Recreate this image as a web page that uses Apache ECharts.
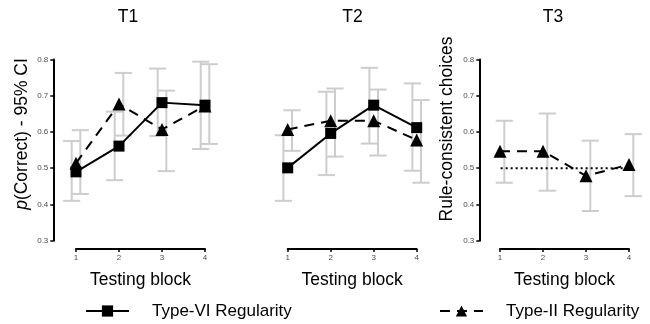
<!DOCTYPE html>
<html>
<head>
<meta charset="utf-8">
<script src="https://cdn.jsdelivr.net/npm/echarts@6/dist/echarts.min.js"></script>
<style>
  html, body { margin: 0; padding: 0; background: #fff; }
  #chart { width: 650px; height: 324px; }
</style>
</head>
<body>
<div id="chart"></div>
<script>
// testing blocks
const blocks = [1, 2, 3, 4];
const panelTitles = ['T1', 'T2', 'T3'];
const yTicks = [0.3, 0.4, 0.5, 0.6, 0.7, 0.8];
const chanceLevel = 0.5;

// T1
const t1TypeVI = [0.49, 0.561, 0.681, 0.674];
const t1TypeVILo = [0.41, 0.467, 0.589, 0.553];
const t1TypeVIHi = [0.575, 0.656, 0.775, 0.794];
const t1TypeII = [0.514, 0.677, 0.607, 0.672];
const t1TypeIILo = [0.429, 0.59, 0.492, 0.567];
const t1TypeIIHi = [0.605, 0.763, 0.714, 0.787];

// T2
const t2TypeVI = [0.501, 0.596, 0.674, 0.612];
const t2TypeVILo = [0.41, 0.481, 0.568, 0.493];
const t2TypeVIHi = [0.591, 0.711, 0.777, 0.734];
const t2TypeII = [0.607, 0.631, 0.631, 0.578];
const t2TypeIILo = [0.548, 0.532, 0.535, 0.46];
const t2TypeIIHi = [0.66, 0.72, 0.717, 0.688];

// T3 (rule-consistent choices)
const t3TypeII = [0.547, 0.547, 0.479, 0.51];
const t3TypeIILo = [0.46, 0.438, 0.382, 0.423];
const t3TypeIIHi = [0.631, 0.651, 0.576, 0.594];

const FONT = 'Liberation Sans, Arial, sans-serif';
const BAR_COLOR = '#cdcdcd';
const DODGE = 0.1;

const chart = echarts.init(document.getElementById('chart'));

const pts = vals => blocks.map((b, i) => [b, vals[i]]);
const ci = (lo, hi) => blocks.map((b, i) => [b, lo[i], hi[i]]);

function errorBars(gi, data, shift) {
  return {
    type: 'custom',
    xAxisIndex: gi,
    yAxisIndex: gi,
    clip: false,
    z: 1,
    silent: true,
    data: data,
    renderItem: function (params, api) {
      const x = api.value(0) + shift;
      const top = api.coord([x, api.value(2)]);
      const bot = api.coord([x, api.value(1)]);
      const half = api.size([0.4, 0])[0] / 2;
      const st = { stroke: BAR_COLOR, lineWidth: 2, fill: null };
      return {
        type: 'group',
        children: [
          { type: 'line', shape: { x1: top[0], y1: top[1], x2: bot[0], y2: bot[1] }, style: st },
          { type: 'line', shape: { x1: top[0] - half, y1: top[1], x2: top[0] + half, y2: top[1] }, style: st },
          { type: 'line', shape: { x1: bot[0] - half, y1: bot[1], x2: bot[0] + half, y2: bot[1] }, style: st }
        ]
      };
    }
  };
}

function typeVI(gi, vals) {
  return {
    name: 'Type-VI Regularity',
    type: 'line',
    xAxisIndex: gi, yAxisIndex: gi,
    data: pts(vals),
    clip: false,
    z: 3,
    symbol: 'rect',
    symbolSize: 11,
    itemStyle: { color: '#000' },
    lineStyle: { color: '#000', width: 2, type: 'solid' }
  };
}

function typeII(gi, vals) {
  return {
    name: 'Type-II Regularity',
    type: 'line',
    xAxisIndex: gi, yAxisIndex: gi,
    data: pts(vals),
    clip: false,
    z: 3,
    symbol: 'triangle',
    symbolSize: 13,
    itemStyle: { color: '#000' },
    lineStyle: { color: '#000', width: 2, type: [10, 7] }
  };
}

const gridLefts = [76, 287.7, 500];
const yOffsets = [22.7, 22.7, 20.7];

const grids = gridLefts.map(l => ({ left: l, top: 59.5, width: 129, height: 181.2 }));

const xAxes = gridLefts.map((l, i) => ({
  type: 'value', gridIndex: i, min: 1, max: 4, interval: 1,
  offset: 8.3,
  axisLine: { show: true, lineStyle: { color: '#000', width: 2 } },
  axisTick: { show: true, length: 3, lineStyle: { color: '#000', width: 1.5 } },
  axisLabel: { fontSize: 8, color: '#4d4d4d', margin: 5, fontFamily: FONT },
  splitLine: { show: false },
  name: 'Testing block', nameLocation: 'middle', nameGap: 22,
  nameTextStyle: { fontSize: 17.5, color: '#000', fontFamily: FONT }
}));

const yAxes = gridLefts.map((l, i) => ({
  type: 'value', gridIndex: i, min: yTicks[0], max: yTicks[yTicks.length - 1], interval: 0.1,
  show: i !== 1,
  offset: yOffsets[i],
  axisLine: { show: true, lineStyle: { color: '#000', width: 2 } },
  axisTick: { show: true, length: 3, lineStyle: { color: '#000', width: 1.5 } },
  axisLabel: { fontSize: 8, color: '#4d4d4d', margin: 5, fontFamily: FONT,
    formatter: v => v.toFixed(1) },
  splitLine: { show: false }
}));

const titleX = [128, 352.5, 553];

const legendBase = {
  top: 297.5,
  itemWidth: 43, itemHeight: 14,
  selectedMode: false,
  textStyle: { fontSize: 17, color: '#000', fontFamily: FONT, padding: [0, 0, 0, 18] }
};

const option = {
  animation: false,
  backgroundColor: '#fff',
  textStyle: { fontFamily: FONT },
  grid: grids,
  xAxis: xAxes,
  yAxis: yAxes,
  legend: [
    Object.assign({}, legendBase, { data: ['Type-VI Regularity'], left: 80 }),
    Object.assign({}, legendBase, { data: ['Type-II Regularity'], left: 434 })
  ],
  graphic: [
    ...panelTitles.map((t, i) => ({
      type: 'text', x: titleX[i], y: 17,
      style: { text: t, fontSize: 17.5, fontFamily: FONT, fill: '#000',
        textAlign: 'center', textVerticalAlign: 'middle' }
    })),
    {
      type: 'text', x: 21.7, y: 134, rotation: Math.PI / 2,
      style: {
        text: '{i|p}(Correct) - 95% CI', fontSize: 17.5, fontFamily: FONT, fill: '#000',
        textAlign: 'center', textVerticalAlign: 'middle',
        rich: { i: { fontStyle: 'italic', fontSize: 17.5, fontFamily: FONT, fill: '#000' } }
      }
    },
    {
      type: 'text', x: 446.7, y: 129, rotation: Math.PI / 2,
      style: { text: 'Rule-consistent choices', fontSize: 17.5, fontFamily: FONT, fill: '#000',
        textAlign: 'center', textVerticalAlign: 'middle' }
    }
  ],
  series: [
    errorBars(0, ci(t1TypeVILo, t1TypeVIHi), -DODGE),
    errorBars(0, ci(t1TypeIILo, t1TypeIIHi), DODGE),
    typeVI(0, t1TypeVI),
    typeII(0, t1TypeII),

    errorBars(1, ci(t2TypeVILo, t2TypeVIHi), -DODGE),
    errorBars(1, ci(t2TypeIILo, t2TypeIIHi), DODGE),
    typeVI(1, t2TypeVI),
    typeII(1, t2TypeII),

    {
      type: 'line', xAxisIndex: 2, yAxisIndex: 2,
      data: [[0.55, chanceLevel], [4.22, chanceLevel]],
      clip: false, silent: true, symbol: 'none', z: 2,
      lineStyle: { color: '#000', width: 2, type: [2, 3] }
    },
    errorBars(2, ci(t3TypeIILo, t3TypeIIHi), DODGE),
    typeII(2, t3TypeII)
  ]
};

chart.setOption(option);
</script>
</body>
</html>
